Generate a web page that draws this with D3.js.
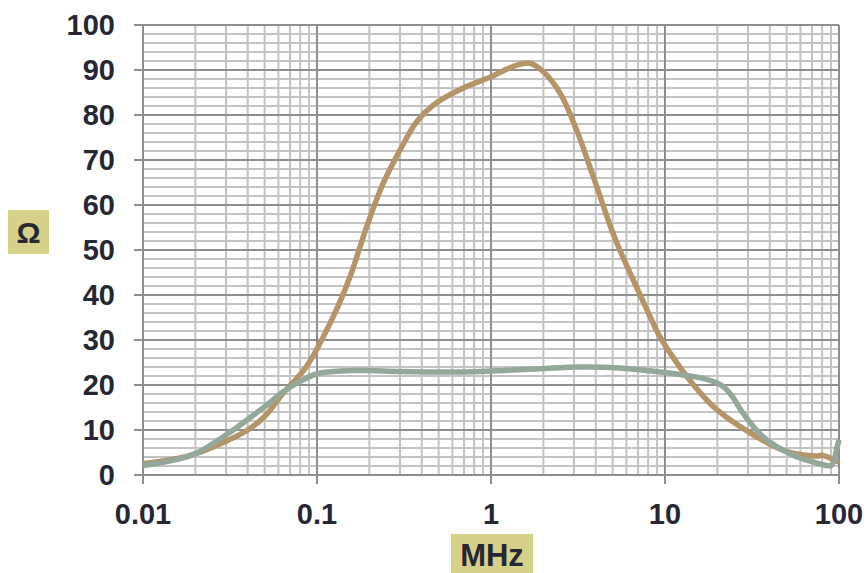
<!DOCTYPE html>
<html>
<head>
<meta charset="utf-8">
<style>
  body { margin: 0; background: #fff; }
  svg text { font-family: "Liberation Sans", Arial, sans-serif; font-weight: bold; fill: #272734; }
</style>
</head>
<body>
<div id="chart"></div>
<script src="https://d3js.org/d3.v7.min.js"></script>
<script>
  // Impedance curves (frequency in MHz, impedance in ohm)
  const tanFreq = [0.01, 0.015, 0.02, 0.03, 0.04, 0.05, 0.064, 0.087, 0.124, 0.155, 0.193, 0.24, 0.3, 0.374, 0.466, 0.66, 1.0, 1.41, 1.67, 2.0, 2.5, 3.1, 3.87, 4.95, 5.5, 7.2, 9.35, 11.1, 13.4, 16, 20, 33.6, 50, 75, 80, 91, 100];
  const tanZ = [2.5, 3.5, 4.7, 7.5, 10, 13, 18.2, 24.1, 35.2, 44.1, 55.2, 64.8, 72.2, 78.5, 82.2, 85.6, 88.5, 91.1, 91.5, 89.6, 84.8, 76.7, 66.3, 54.4, 50, 40, 30.7, 26.2, 21.8, 18.2, 14.4, 8.5, 5.2, 4.2, 4.4, 3.6, 2.8];

  const greenFreq = [0.01, 0.015, 0.02, 0.033, 0.0516, 0.064, 0.08, 0.1, 0.155, 0.2, 0.3, 0.66, 1.0, 1.9, 3.2, 5.5, 10, 15, 18.2, 21, 24, 28, 36.6, 54.5, 71, 85, 90, 94, 97, 100];
  const greenZ = [2.1, 3.3, 4.7, 10, 15.6, 18.5, 20.8, 22.5, 23.2, 23.2, 23, 22.9, 23.1, 23.6, 24, 23.8, 22.8, 21.8, 21, 20, 17.8, 13.8, 8.5, 4.4, 2.9, 2.1, 2.1, 3.5, 5.8, 7.8];

  const xTicks = [0.01, 0.1, 1, 10, 100];
  const xTickLabels = ['0.01', '0.1', '1', '10', '100'];
  const yTicks = [0, 10, 20, 30, 40, 50, 60, 70, 80, 90, 100];

  const width = 868;
  const height = 573;
  const margin = { top: 25, right: 29, bottom: 98, left: 143 };

  const svg = d3.select('#chart')
    .append('svg')
    .attr('width', width)
    .attr('height', height);

  const x = d3.scaleLog()
    .domain([0.01, 100])
    .range([margin.left, width - margin.right]);

  const y = d3.scaleLinear()
    .domain([0, 100])
    .range([height - margin.bottom, margin.top]);

  const grid = svg.append('g');

  // minor horizontal lines every 2 ohm
  grid.selectAll('.hmin')
    .data(d3.range(0, 101, 2).filter(v => v % 10 !== 0))
    .join('line')
    .attr('x1', x(0.01)).attr('x2', x(100))
    .attr('y1', d => y(d)).attr('y2', d => y(d))
    .attr('stroke', '#c3c3c3').attr('stroke-width', 2);

  // minor vertical lines 2..9 per decade
  grid.selectAll('.vmin')
    .data(x.ticks().filter(v => !xTicks.includes(v)))
    .join('line')
    .attr('x1', d => x(d)).attr('x2', d => x(d))
    .attr('y1', y(0)).attr('y2', y(100))
    .attr('stroke', '#c3c3c3').attr('stroke-width', 2);

  // major lines with small ticks outside
  grid.selectAll('.hmaj')
    .data(yTicks)
    .join('line')
    .attr('x1', x(0.01) - 9).attr('x2', x(100))
    .attr('y1', d => y(d)).attr('y2', d => y(d))
    .attr('stroke', '#8e8e8e').attr('stroke-width', 2);

  grid.selectAll('.vmaj')
    .data(xTicks)
    .join('line')
    .attr('x1', d => x(d)).attr('x2', d => x(d))
    .attr('y1', y(0) + 9).attr('y2', y(100))
    .attr('stroke', '#8e8e8e').attr('stroke-width', 2);

  // tick labels
  svg.selectAll('.ylab')
    .data(yTicks)
    .join('text')
    .attr('x', x(0.01) - 28)
    .attr('y', d => y(d))
    .attr('dy', '0.36em')
    .attr('text-anchor', 'end')
    .attr('font-size', 29)
    .text(d => d);

  svg.selectAll('.xlab')
    .data(xTicks)
    .join('text')
    .attr('x', d => x(d))
    .attr('y', 524)
    .attr('text-anchor', 'middle')
    .attr('font-size', 29)
    .text((d, i) => xTickLabels[i]);

  // curves
  const line = d3.line()
    .x(d => x(d[0]))
    .y(d => y(d[1]))
    .curve(d3.curveCatmullRom.alpha(0.5));

  svg.append('path')
    .datum(d3.zip(tanFreq, tanZ))
    .attr('fill', 'none')
    .attr('stroke', '#b59468')
    .attr('stroke-width', 5.5)
    .attr('stroke-linejoin', 'round')
    .attr('d', line);

  svg.append('path')
    .datum(d3.zip(greenFreq, greenZ))
    .attr('fill', 'none')
    .attr('stroke', '#94a89a')
    .attr('stroke-width', 5.5)
    .attr('stroke-linejoin', 'round')
    .attr('d', line);

  // axis titles in shaded boxes
  svg.append('rect')
    .attr('x', 451).attr('y', 534)
    .attr('width', 82).attr('height', 39)
    .attr('fill', '#d5d189');
  svg.append('text')
    .attr('x', 492).attr('y', 566)
    .attr('text-anchor', 'middle')
    .attr('font-size', 31)
    .text('MHz');

  svg.append('rect')
    .attr('x', 8).attr('y', 210)
    .attr('width', 41).attr('height', 44)
    .attr('fill', '#d5d189');
  svg.append('text')
    .attr('x', 28.5).attr('y', 232)
    .attr('dy', '0.36em')
    .attr('text-anchor', 'middle')
    .attr('font-size', 30)
    .text('Ω');
</script>
</body>
</html>
